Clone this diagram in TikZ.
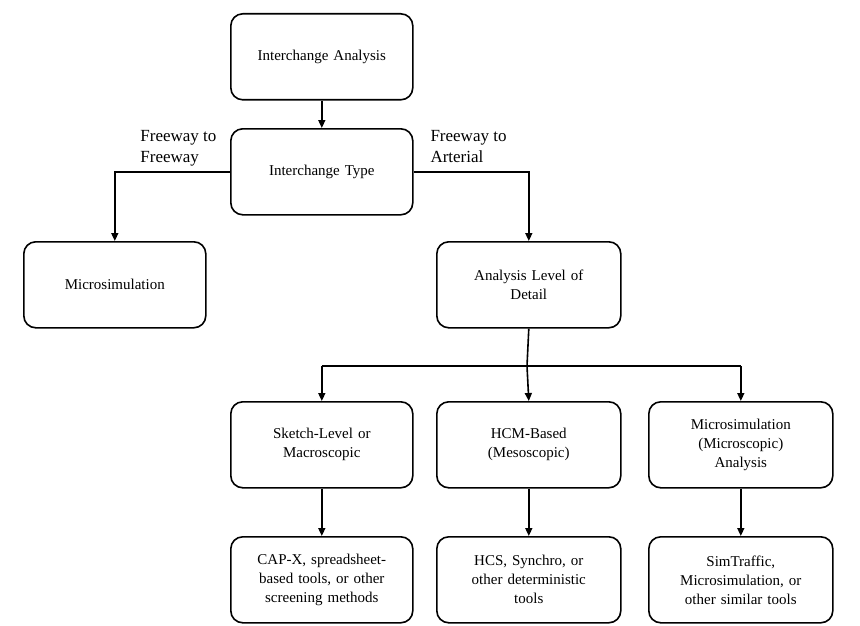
\documentclass[tikz,border=0pt]{standalone}
\usepackage{fontspec}
\setmainfont{Liberation Serif}
\usetikzlibrary{arrows.meta}
\begin{document}
\begin{tikzpicture}[x=1pt,y=-1pt,
  box/.style={draw,line width=1.6pt,rounded corners=12pt,minimum width=182pt,minimum height=86pt,align=center,font=\fontsize{15}{19}\selectfont,anchor=north west,text width=170pt},
  arr/.style={line width=1.6pt,-{Triangle[length=8pt,width=7pt]}},
  lab/.style={font=\fontsize{17}{21}\selectfont,align=left}]
\useasboundingbox (0,0) rectangle (860,626);
\fill[white] (0,0) rectangle (860,626);
\node[box] (ia) at (230,13) {Interchange Analysis};
\node[box] (it) at (230,128) {Interchange Type};
\node[box] (ms) at (23,241) {Microsimulation};
\node[box,minimum width=184pt] (al) at (436,241) {Analysis Level of\\Detail};
\node[box] (sk) at (230,401) {Sketch-Level or\\Macroscopic};
\node[box,minimum width=184pt] (hc) at (436,401) {HCM-Based\\(Mesoscopic)};
\node[box,minimum width=184pt] (mi) at (648,401) {Microsimulation\\(Microscopic)\\Analysis};
\node[box] (cx) at (230,536) {CAP-X, spreadsheet-\\based tools, or other\\screening methods};
\node[box,minimum width=184pt] (hs) at (436,536) {HCS, Synchro, or\\other deterministic\\tools};
\node[box,minimum width=184pt] (st) at (648,536) {SimTraffic,\\Microsimulation, or\\other similar tools};
\node[lab,anchor=north east] (fl) at (220,127) {Freeway to\\Freeway};
\node[lab,anchor=north west] (fr) at (427,127) {Freeway to\\Arterial};
\coordinate (j) at (527,366);
\draw[arr] (ia) -- (it);
\draw[arr] (it.west) -| (ms.north);
\draw[arr] (it.east) -| (al.north);
\draw[line width=1.6pt] (al.south) -- (j);
\draw[line width=1.6pt] (sk.north |- j) -- (mi.north |- j);
\draw[arr] (j) -- (hc.north);
\draw[arr] (sk.north |- j) -- (sk.north);
\draw[arr] (mi.north |- j) -- (mi.north);
\draw[arr] (sk) -- (cx);
\draw[arr] (hc) -- (hs);
\draw[arr] (mi) -- (st);
\end{tikzpicture}
\end{document}
